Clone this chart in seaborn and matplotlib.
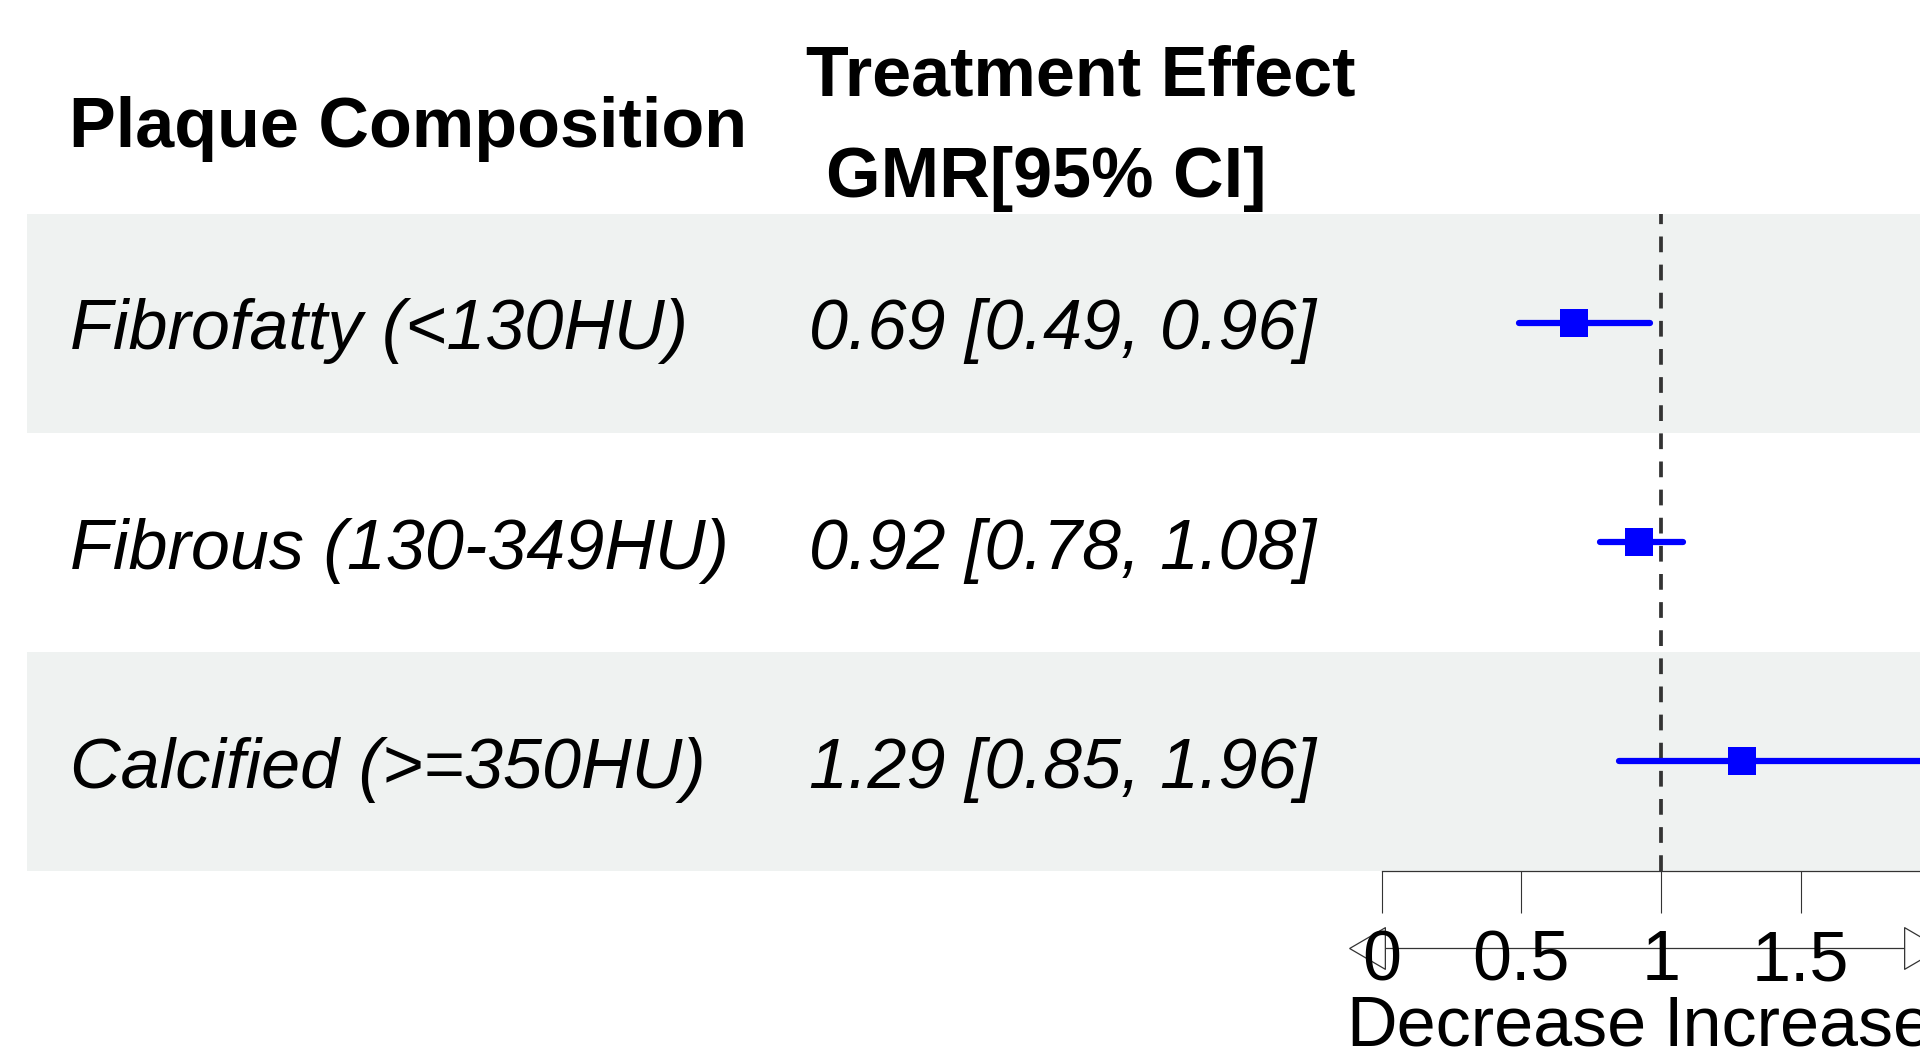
import numpy as np
import pandas as pd
import matplotlib
matplotlib.use("Agg")
import matplotlib.pyplot as plt
import seaborn as sns
from matplotlib.transforms import blended_transform_factory, offset_copy

# data
categories = ["Fibrofatty (<130HU)", "Fibrous (130-349HU)", "Calcified (>=350HU)"]
gmr = [0.69, 0.92, 1.29]
ci_low = [0.49, 0.78, 0.85]
ci_high = [0.96, 1.08, 1.96]
x_ticks = [0, 0.5, 1, 1.5, 2]
tick_labels = ["0", "0.5", "1", "1.5", "2"]
header_left = "Plaque Composition"
header_right = ["Treatment Effect", "GMR[95% CI]"]
arrow_labels = ["Decrease", "Increase"]
ref_value = 1

sns.set_theme(style="white")
plt.rcParams["font.family"] = ["Liberation Sans", "DejaVu Sans"]
plt.rcParams["text.color"] = "black"

W, H = 1920, 1060
FS = 50.5
ROW_TOP, ROW_BOTTOM = 213.5, 871
ROW_H = (ROW_BOTTOM - ROW_TOP) / len(categories)
X0_PX, UNIT_PX = 1381.7, 279.3
BAND = "#eff2f1"
AXIS_COL = "#333333"

df = pd.DataFrame({"label": categories, "gmr": gmr, "lo": ci_low, "hi": ci_high})
df["row"] = np.arange(len(df))
df["text"] = [f"{g:.2f} [{l:.2f}, {h:.2f}]" for g, l, h in zip(gmr, ci_low, ci_high)]

fig = plt.figure(figsize=(W / 100, H / 100), dpi=100)

# table layer in pixel units
bg = fig.add_axes([0, 0, 1, 1])
bg.set_xlim(0, W)
bg.set_ylim(H, 0)
bg.axis("off")

for i in df["row"]:
    if i % 2 == 0:
        bg.axhspan(ROW_TOP + i * ROW_H, ROW_TOP + (i + 1) * ROW_H,
                   xmin=27 / W, xmax=1, color=BAND, lw=0, zorder=0)

bg.text(69, 147.3, header_left, fontsize=FS, fontweight="bold", va="baseline")
bg.text(806, 96, header_right[0], fontsize=FS, fontweight="bold", va="baseline")
bg.text(826, 197.3, header_right[1], fontsize=FS, fontweight="bold", va="baseline")

for i, row in df.iterrows():
    base = ROW_TOP + row["row"] * ROW_H + 136
    bg.text(70, base, row["label"], fontsize=FS, style="italic", va="baseline")
    bg.text(809, base, row["text"], fontsize=FS, style="italic", va="baseline")

# forest panel
ax = fig.add_axes([X0_PX / W, 1 - ROW_BOTTOM / H, (W - X0_PX) / W, (ROW_BOTTOM - ROW_TOP) / H])
ax.set_facecolor("none")

ci = ax.hlines(df["row"], df["lo"], df["hi"], color="blue", lw=4.5, zorder=3)
ci.set_capstyle("round")
sns.scatterplot(data=df, x="gmr", y="row", marker="s", s=380, color="blue",
                linewidth=0, ax=ax, zorder=4, legend=False)
ax.axvline(ref_value, color=AXIS_COL, lw=2.7, linestyle=(0, (4.2, 3.3)), zorder=2)

ax.set_xlabel("")
ax.set_ylabel("")
ax.set_yticks([])
ax.set_xticks(x_ticks, tick_labels)
# limits after the ticks, otherwise set_xticks widens the view to 2
ax.set_xlim(0, (W - X0_PX) / UNIT_PX)
ax.set_ylim(len(df) - 0.5, -0.5)
for side in ["left", "top", "right"]:
    ax.spines[side].set_visible(False)
ax.spines["bottom"].set_color(AXIS_COL)
ax.spines["bottom"].set_linewidth(0.9)
ax.spines["bottom"].set_bounds(0, 2)
ax.tick_params(axis="x", bottom=True, direction="out", length=30, width=0.8,
               color=AXIS_COL, labelsize=FS, labelcolor="black", pad=12)

# arrow row under the axis
trans = blended_transform_factory(ax.transData, bg.transData)
arrow_y = 948.3
bg.plot([0.012, 1.870], [arrow_y, arrow_y], transform=trans, color=AXIS_COL,
        lw=0.9, clip_on=False)
left_tri = [(-0.857, 0), (0.857, -1), (0.857, 1), (-0.857, 0)]
right_tri = [(0.857, 0), (-0.857, -1), (-0.857, 1), (0.857, 0)]
bg.plot([-0.053], [arrow_y], transform=trans, marker=left_tri, ms=30,
        mfc="white", mec=AXIS_COL, mew=0.9, clip_on=False)
bg.plot([1.934], [arrow_y], transform=trans, marker=right_tri, ms=30,
        mfc="white", mec=AXIS_COL, mew=0.9, clip_on=False)
bg.text(ref_value, 1045, arrow_labels[0], fontsize=FS, ha="right", va="baseline",
        transform=offset_copy(trans, fig=fig, x=-15, units="dots"))
bg.text(ref_value, 1045, arrow_labels[1], fontsize=FS, ha="left", va="baseline",
        transform=offset_copy(trans, fig=fig, x=3, units="dots"))

fig.savefig("out.png", dpi=100)
